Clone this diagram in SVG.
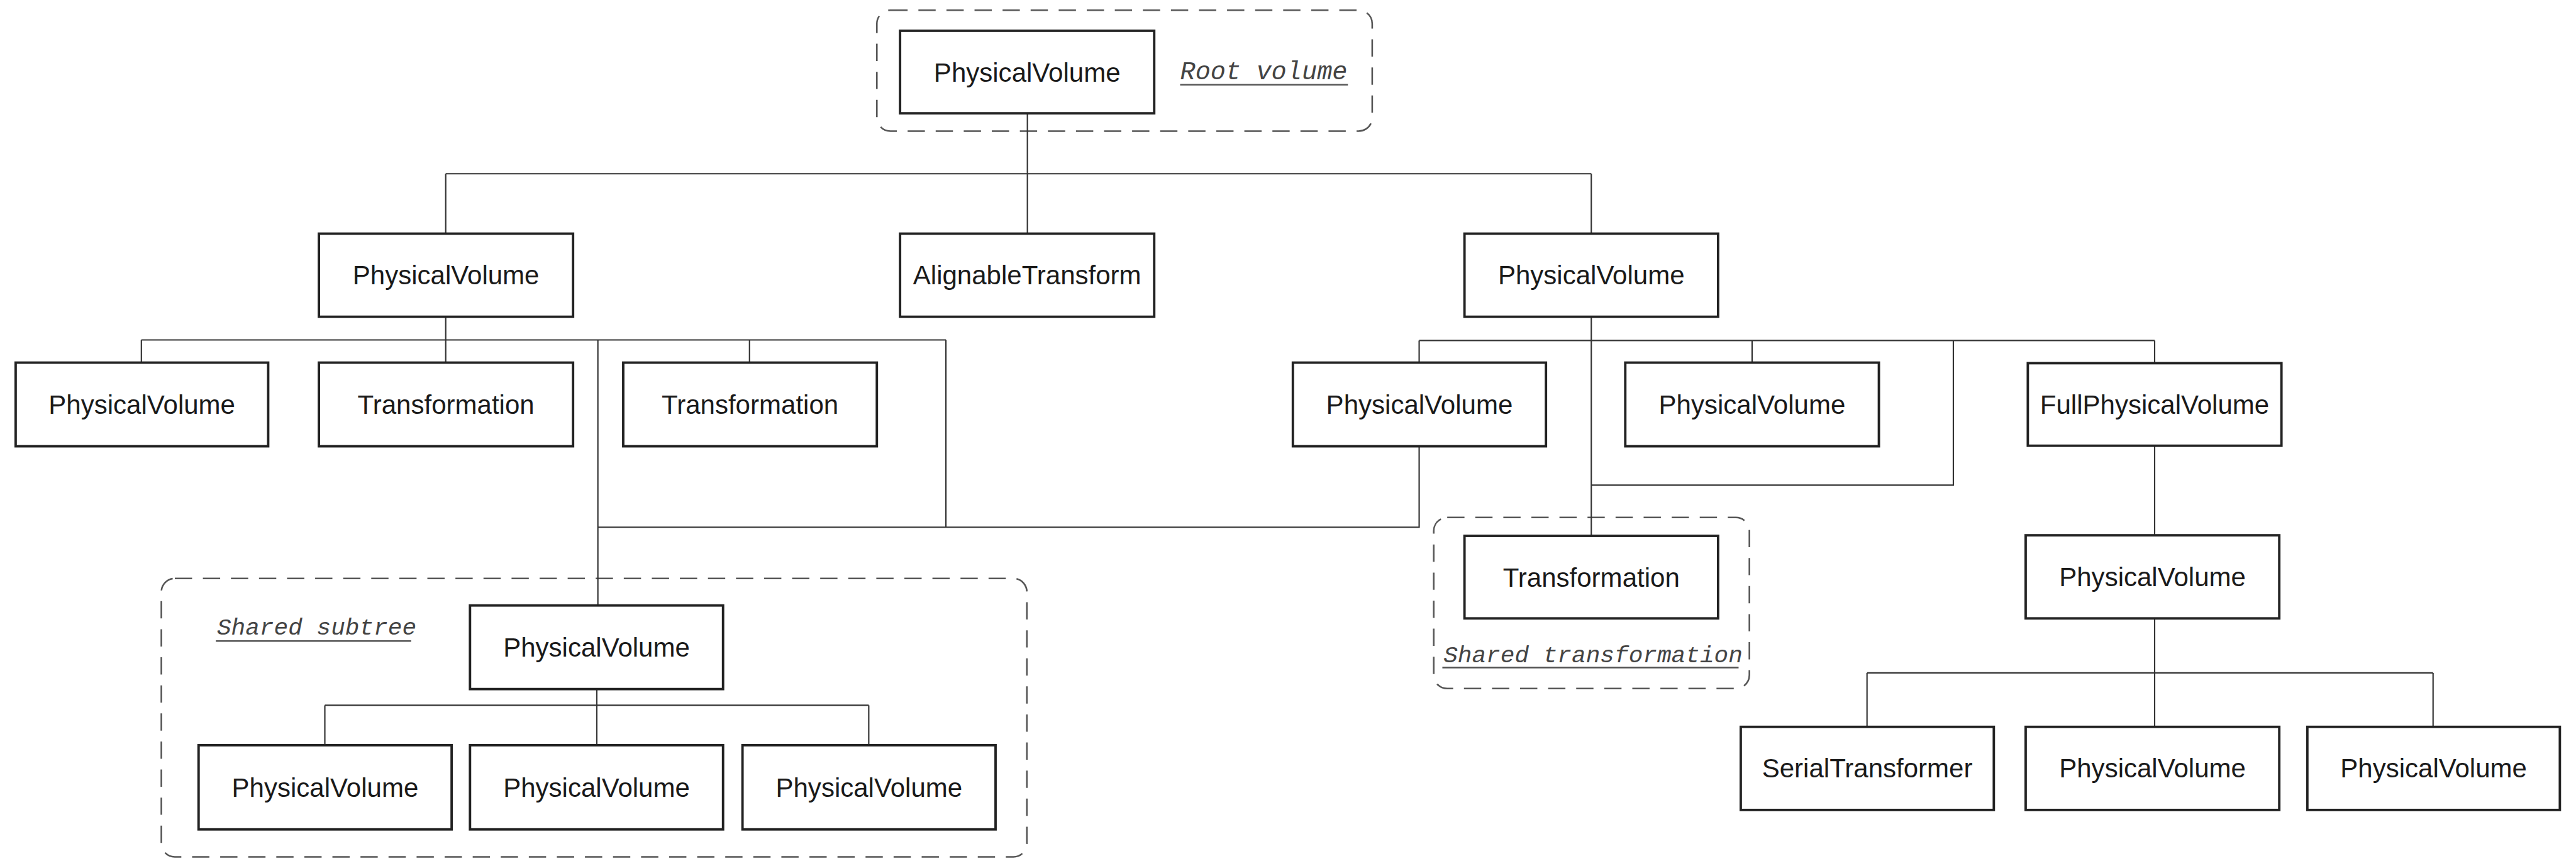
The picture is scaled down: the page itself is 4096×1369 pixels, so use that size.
<svg xmlns="http://www.w3.org/2000/svg" width="4096" height="1369" viewBox="0 0 4096 1369">
<style>
.box{fill:#fff;stroke:#222;stroke-width:4.5}
.lbl{font-family:"Liberation Sans",Arial,sans-serif;font-size:49px;fill:#1a1a1a;text-anchor:middle}
.ann{font-family:"Liberation Mono","Courier New",monospace;font-style:italic;fill:#444}
.grp{fill:none;stroke:#555;stroke-width:3;stroke-dasharray:32 20}
.ul{stroke:#555;stroke-width:3}
.con{fill:none;stroke:#333;stroke-width:2.5}
</style>
<rect width="4096" height="1369" fill="#fff"/>
<g transform="scale(0.858)">
<g id="groups">
<rect class="grp" x="1625" y="19" width="918" height="224" rx="25"/>
<rect class="grp" x="299" y="1072" width="1604" height="516" rx="25"/>
<rect class="grp" x="2657" y="959" width="585" height="317" rx="25"/>
<text class="ann" x="2187" y="147" font-size="47">Root volume</text>
<line class="ul" x1="2187" y1="157" x2="2498" y2="157"/>
<text class="ann" x="402" y="1176" font-size="44">Shared subtree</text>
<line class="ul" x1="400" y1="1188" x2="762" y2="1188"/>
<text class="ann" x="2675" y="1227" font-size="44">Shared transformation</text>
<line class="ul" x1="2673" y1="1237" x2="3222" y2="1237"/>
</g>
<g id="connectors">
<path class="con" d="M1904 210V433M826 322H2949M826 322V433M2949 322V433"/>
<path class="con" d="M826 587V672M262 630H1753M262 630V672M1389 630V672M1108 630V1122M1753 630V977M1108 977H2630V827"/>
<path class="con" d="M2949 587V993M2630 631H3993M2630 631V673M3247 631V673M3993 631V673M3620 631V899H2949"/>
<path class="con" d="M3993 826V992M3993 1146V1347M3460 1247H4509M3460 1247V1347M4509 1247V1347"/>
<path class="con" d="M1106 1277V1381M602 1307H1610M602 1307V1381M1610 1307V1381"/>
</g>
<g id="n-root"><rect class="box" x="1668" y="57" width="471" height="153"/><text class="lbl" x="1903.5" y="151">PhysicalVolume</text></g>
<g id="n-pv-l2a"><rect class="box" x="591" y="433" width="471" height="154"/><text class="lbl" x="826.5" y="527">PhysicalVolume</text></g>
<g id="n-align"><rect class="box" x="1668" y="433" width="471" height="154"/><text class="lbl" x="1903.5" y="527">AlignableTransform</text></g>
<g id="n-pv-l2b"><rect class="box" x="2714" y="433" width="470" height="154"/><text class="lbl" x="2949" y="527">PhysicalVolume</text></g>
<g id="n-pv-l3a"><rect class="box" x="29" y="672" width="468" height="155"/><text class="lbl" x="263" y="767">PhysicalVolume</text></g>
<g id="n-tr-l3a"><rect class="box" x="591" y="672" width="471" height="155"/><text class="lbl" x="826.5" y="767">Transformation</text></g>
<g id="n-tr-l3b"><rect class="box" x="1155" y="672" width="470" height="155"/><text class="lbl" x="1390" y="767">Transformation</text></g>
<g id="n-pv-l3b"><rect class="box" x="2396" y="672" width="469" height="155"/><text class="lbl" x="2630.5" y="767">PhysicalVolume</text></g>
<g id="n-pv-l3c"><rect class="box" x="3012" y="672" width="470" height="155"/><text class="lbl" x="3247" y="767">PhysicalVolume</text></g>
<g id="n-fullpv"><rect class="box" x="3758" y="673" width="470" height="153"/><text class="lbl" x="3993" y="767">FullPhysicalVolume</text></g>
<g id="n-tr-shared"><rect class="box" x="2714" y="993" width="470" height="153"/><text class="lbl" x="2949" y="1087">Transformation</text></g>
<g id="n-pv-l4"><rect class="box" x="3754" y="992" width="470" height="154"/><text class="lbl" x="3989" y="1086">PhysicalVolume</text></g>
<g id="n-pv-shared"><rect class="box" x="871" y="1122" width="469" height="155"/><text class="lbl" x="1105.5" y="1217">PhysicalVolume</text></g>
<g id="n-pv-s1"><rect class="box" x="368" y="1381" width="469" height="156"/><text class="lbl" x="602.5" y="1477">PhysicalVolume</text></g>
<g id="n-pv-s2"><rect class="box" x="871" y="1381" width="469" height="156"/><text class="lbl" x="1105.5" y="1477">PhysicalVolume</text></g>
<g id="n-pv-s3"><rect class="box" x="1376" y="1381" width="469" height="156"/><text class="lbl" x="1610.5" y="1477">PhysicalVolume</text></g>
<g id="n-serial"><rect class="box" x="3226" y="1347" width="469" height="154"/><text class="lbl" x="3460.5" y="1441">SerialTransformer</text></g>
<g id="n-pv-r2"><rect class="box" x="3754" y="1347" width="470" height="154"/><text class="lbl" x="3989" y="1441">PhysicalVolume</text></g>
<g id="n-pv-r3"><rect class="box" x="4276" y="1347" width="468" height="154"/><text class="lbl" x="4510" y="1441">PhysicalVolume</text></g>
</g>
</svg>
